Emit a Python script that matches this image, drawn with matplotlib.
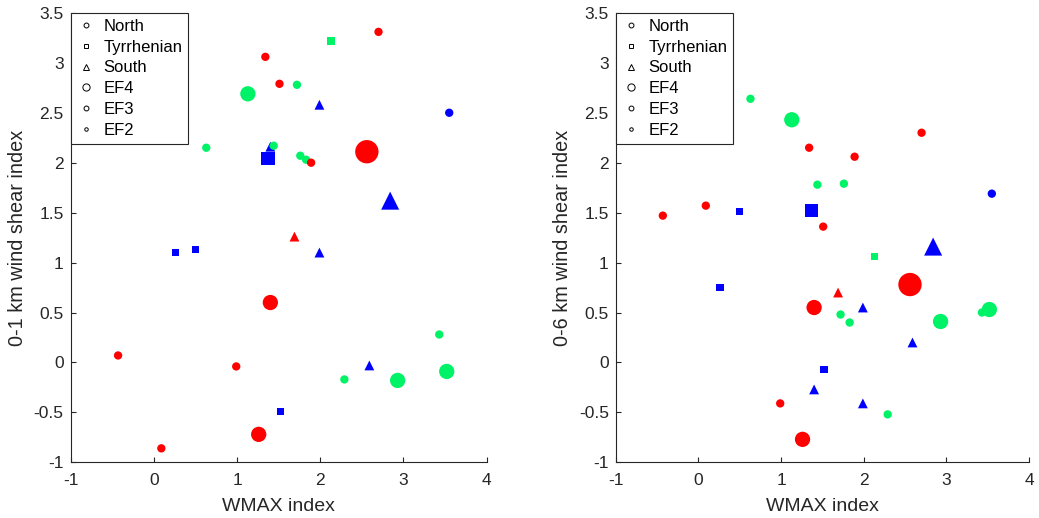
import matplotlib
matplotlib.use('Agg')
import matplotlib.pyplot as plt
from matplotlib.lines import Line2D

plt.rcParams['font.family'] = ['Liberation Sans', 'DejaVu Sans']
plt.rcParams['axes.unicode_minus'] = False

# one entry per tornado case
region = ['North', 'Tyrrhenian', 'North', 'North', 'North', 'North', 'South', 'North',
          'North', 'South', 'North', 'Tyrrhenian', 'North', 'North', 'North', 'North',
          'South', 'South', 'Tyrrhenian', 'Tyrrhenian', 'South', 'North', 'North', 'North',
          'North', 'South', 'North', 'North', 'North', 'Tyrrhenian', 'North', 'North']
rating = ['EF2', 'EF2', 'EF2', 'EF2', 'EF2', 'EF3', 'EF2', 'EF2',
          'EF2', 'EF2', 'EF2', 'EF3', 'EF2', 'EF2', 'EF2', 'EF4',
          'EF3', 'EF2', 'EF2', 'EF2', 'EF2', 'EF3', 'EF2', 'EF2',
          'EF2', 'EF2', 'EF2', 'EF3', 'EF3', 'EF2', 'EF3', 'EF2']
group = ['r', 'g', 'r', 'r', 'g', 'g', 'b', 'b',
         'g', 'b', 'g', 'b', 'g', 'g', 'r', 'r',
         'b', 'r', 'b', 'b', 'b', 'r', 'r', 'r',
         'g', 'b', 'g', 'g', 'g', 'b', 'r', 'r']
wmax = [2.70, 2.13, 1.34, 1.51, 1.72, 1.13, 1.99, 3.55,
        0.63, 1.40, 1.44, 1.37, 1.76, 1.83, 1.89, 2.56,
        2.84, 1.69, 0.26, 0.50, 1.99, 1.40, -0.43, 0.99,
        3.43, 2.59, 2.29, 2.93, 3.52, 1.52, 1.26, 0.09]
shear01 = [3.31, 3.22, 3.06, 2.79, 2.78, 2.69, 2.58, 2.50,
           2.15, 2.16, 2.17, 2.04, 2.07, 2.03, 2.00, 2.11,
           1.62, 1.26, 1.10, 1.13, 1.10, 0.60, 0.07, -0.04,
           0.28, -0.03, -0.17, -0.18, -0.09, -0.49, -0.72, -0.86]
shear06 = [2.30, 1.06, 2.15, 1.36, 0.48, 2.43, 0.55, 1.69,
           2.64, -0.27, 1.78, 1.52, 1.79, 0.40, 2.06, 0.78,
           1.16, 0.70, 0.75, 1.51, -0.41, 0.55, 1.47, -0.41,
           0.50, 0.20, -0.52, 0.41, 0.53, -0.07, -0.77, 1.57]

colors = {'r': '#ff0000', 'g': '#00f266', 'b': '#0000ff'}
markers = {'North': 'o', 'Tyrrhenian': 's', 'South': '^'}
msize = {'EF2': 6.0, 'EF3': 11.0, 'EF4': 16.8}
mscale = {'o': 1.0, 's': 0.88, '^': 1.18}

fig = plt.figure(figsize=(10.39, 5.18), dpi=100)
ax1 = fig.add_axes([0.068, 0.1075, 0.4004, 0.8676])
ax2 = fig.add_axes([0.5926, 0.1075, 0.3978, 0.8676])

for ax, yv, ylab in [(ax1, shear01, '0-1 km wind shear index'),
                     (ax2, shear06, '0-6 km wind shear index')]:
    for i in range(len(wmax)):
        m = markers[region[i]]
        s = (msize[rating[i]] * mscale[m]) ** 2
        ax.scatter(wmax[i], yv[i], s=s, marker=m, c=colors[group[i]], edgecolors='none', zorder=3)
    ax.set_xlim(-1, 4)
    ax.set_ylim(-1, 3.5)
    ax.set_xticks([-1, 0, 1, 2, 3, 4])
    ax.set_yticks([-1, -0.5, 0, 0.5, 1, 1.5, 2, 2.5, 3, 3.5])
    ax.set_yticklabels(['-1', '-0.5', '0', '0.5', '1', '1.5', '2', '2.5', '3', '3.5'])
    ax.spines['top'].set_visible(False)
    ax.spines['right'].set_visible(False)
    for sp in ['left', 'bottom']:
        ax.spines[sp].set_color('#262626')
        ax.spines[sp].set_linewidth(0.8)
    ax.tick_params(direction='in', length=3.6, width=0.8, color='#262626',
                   labelcolor='#262626', labelsize=12.5)
    ax.tick_params(axis='x', pad=8)
    ax.tick_params(axis='y', pad=5)
    ax.set_xlabel('WMAX index', fontsize=14, color='#262626', labelpad=7)
    ax.set_ylabel(ylab, fontsize=14.3, color='#262626', labelpad=5)

    handles = [
        Line2D([], [], ls='none', marker='o', ms=3.5, mfc='none', mec='k', mew=0.7),
        Line2D([], [], ls='none', marker='s', ms=3.3, mfc='none', mec='k', mew=0.7),
        Line2D([], [], ls='none', marker='^', ms=4.0, mfc='none', mec='k', mew=0.7),
        Line2D([], [], ls='none', marker='o', ms=5.2, mfc='none', mec='k', mew=0.7),
        Line2D([], [], ls='none', marker='o', ms=3.5, mfc='none', mec='k', mew=0.7),
        Line2D([], [], ls='none', marker='o', ms=2.5, mfc='none', mec='k', mew=0.7),
    ]
    leg = ax.legend(handles, ['North', 'Tyrrhenian', 'South', 'EF4', 'EF3', 'EF2'],
                    loc='upper left', bbox_to_anchor=(0, 1), borderaxespad=0,
                    fontsize=12, handlelength=1.12, handletextpad=0.5,
                    labelspacing=0.35, borderpad=0.35, fancybox=False, framealpha=1)
    leg.get_frame().set_edgecolor('#262626')
    leg.get_frame().set_linewidth(0.8)
    leg.set_zorder(5)

plt.savefig('out.png', dpi=100)
